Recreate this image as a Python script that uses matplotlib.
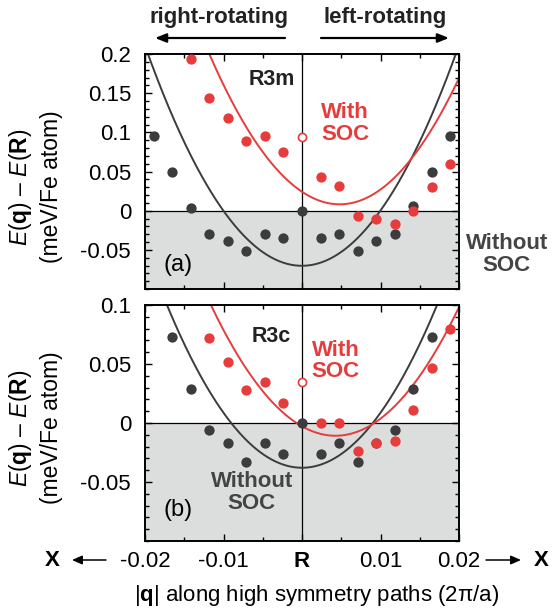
import numpy as np
import matplotlib
matplotlib.use('Agg')
import matplotlib.pyplot as plt

plt.rcParams['font.family'] = ['Liberation Sans', 'DejaVu Sans']
plt.rcParams['mathtext.fontset'] = 'custom'
plt.rcParams['mathtext.rm'] = 'Liberation Sans'
plt.rcParams['mathtext.it'] = 'Liberation Sans:italic'
plt.rcParams['mathtext.bf'] = 'Liberation Sans:bold'

# q points along the paths (2pi/a), R in the middle
q = [-0.0189, -0.01654, -0.01418, -0.01181, -0.00945, -0.00709, -0.00473, -0.00236, 0.0,
     0.00236, 0.00473, 0.00709, 0.00945, 0.01181, 0.01418, 0.01654, 0.0189]
nan = np.nan

# panel (a) R3m
a_nosoc = [0.095, 0.049, 0.004, -0.030, -0.039, -0.052, -0.030, -0.035, 0.0,
           -0.035, -0.030, -0.052, -0.039, -0.030, 0.006, 0.049, 0.095]
a_soc = [nan, nan, 0.194, 0.144, 0.118, 0.089, 0.095, 0.075, nan,
         0.043, 0.032, -0.007, -0.011, -0.017, 0.000, 0.030, 0.060]
a_soc_R = 0.094

# panel (b) R3c
b_nosoc = [nan, 0.073, 0.029, -0.006, -0.017, -0.033, -0.017, -0.026, 0.0,
           -0.026, -0.017, -0.033, -0.017, -0.006, 0.029, 0.073, nan]
b_soc = [nan, nan, nan, 0.072, 0.052, 0.028, 0.035, 0.017, nan,
         0.0, 0.0, -0.024, -0.017, -0.015, 0.011, 0.047, 0.080]
b_soc_R = 0.035

# points
a_fit_nosoc_q = [-0.0196, -0.014, -0.0101, 0.0, 0.0099, 0.014, 0.0196]
a_fit_nosoc_e = [0.200, 0.067, 0.0, -0.070, 0.0, 0.067, 0.200]
a_fit_soc_q = [-0.0118, -0.005, 0.0, 0.0048, 0.010, 0.015, 0.020]
a_fit_soc_e = [0.200, 0.075, 0.024, 0.008, 0.027, 0.081, 0.169]
b_fit_nosoc_q = [-0.0172, -0.012, -0.009, 0.0, 0.009, 0.012, 0.0172]
b_fit_nosoc_e = [0.100, 0.029, 0.0, -0.038, 0.0, 0.029, 0.100]
b_fit_soc_q = [-0.0116, -0.005, 0.0, 0.0043, 0.010, 0.015, 0.020]
b_fit_soc_e = [0.100, 0.027, -0.003, -0.011, 0.004, 0.040, 0.098]

RED = '#e63c3c'
DARK = '#3c3c3e'
GREY = '#dcdddd'
W, H = 556., 610.


def fp(x, y):
    return (x / W, 1 - y / H)


fig = plt.figure(figsize=(5.56, 6.10), dpi=100)
ax1 = fig.add_axes([145 / W, 1 - 289 / H, 314 / W, 235 / H])
ax2 = fig.add_axes([145 / W, 1 - 541 / H, 314 / W, 236 / H])


def panel(ax, ylim, nosoc, soc, soc_R, fits):
    ax.set_xlim(-0.02, 0.02)
    ax.set_ylim(*ylim)
    ax.axhspan(ylim[0], 0, color=GREY, zorder=0, lw=0)
    ax.axhline(0, color='k', lw=0.9, zorder=1)
    ax.axvline(0, color='k', lw=0.9, zorder=1)
    qq = np.linspace(-0.02, 0.02, 400)
    for (fq, fe), c in zip(fits, [DARK, RED]):
        p = np.polyfit(fq, fe, 2)
        ax.plot(qq, np.polyval(p, qq), color=c, lw=1.4, zorder=2)
    ax.scatter(q, nosoc, s=55, color=DARK, lw=0, zorder=3)
    ax.scatter(q, soc, s=55, color=RED, lw=0, zorder=4)
    ax.scatter([0], [soc_R], s=34, facecolor='white', edgecolor=RED, lw=1.2, zorder=5)
    ax.set_xticks([-0.02, -0.01, 0, 0.01, 0.02])
    ax.set_xticks(np.arange(-0.02, 0.0201, 0.005), minor=True)
    ax.set_yticks(np.arange(-0.1, ylim[1] + 0.001, 0.01), minor=True)
    ax.tick_params(which='both', direction='in', top=True, right=True, labelsize=16, width=1)
    ax.tick_params(which='major', length=5)
    ax.tick_params(which='minor', length=3)
    ax.tick_params(axis='y', pad=10)
    ax.tick_params(axis='x', pad=7)
    for s in ax.spines.values():
        s.set_linewidth(1.4)


panel(ax1, (-0.1, 0.2), a_nosoc, a_soc, a_soc_R,
      [(a_fit_nosoc_q, a_fit_nosoc_e), (a_fit_soc_q, a_fit_soc_e)])
panel(ax2, (-0.1, 0.1), b_nosoc, b_soc, b_soc_R,
      [(b_fit_nosoc_q, b_fit_nosoc_e), (b_fit_soc_q, b_fit_soc_e)])

ax1.set_yticks([-0.05, 0, 0.05, 0.1, 0.15, 0.2])
ax1.set_yticklabels(['-0.05', '0', '0.05', '0.1', '0.15', '0.2'])
ax1.set_xticklabels([])
ax2.set_yticks([-0.05, 0, 0.05, 0.1])
ax2.set_yticklabels(['-0.05', '0', '0.05', '0.1'])
ax2.set_xticklabels(['-0.02', '-0.01', 'R', '0.01', '0.02'])
ax2.get_xticklabels()[2].set_fontweight('bold')

# in-panel text
ax1.text(-0.00386, 0.168, 'R3m', fontsize=15.5, fontweight='bold', color='#222222', ha='center', va='center')
ax1.text(0.0055, 0.111, 'With\nSOC', fontsize=16, fontweight='bold', color=RED, ha='center', va='center', linespacing=1.05)
ax1.text(-0.0158, -0.070, '(a)', fontsize=17, ha='center', va='center')
ax1.text(0.0261, -0.056, 'Without\nSOC', fontsize=16, fontweight='bold', color='#444444',
         ha='center', va='center', linespacing=1.05, clip_on=False)
ax2.text(-0.00386, 0.073, 'R3c', fontsize=15.5, fontweight='bold', color='#222222', ha='center', va='center')
ax2.text(0.0043, 0.0525, 'With\nSOC', fontsize=16, fontweight='bold', color=RED, ha='center', va='center', linespacing=1.05)
ax2.text(-0.0064, -0.059, 'Without\nSOC', fontsize=16, fontweight='bold', color='#444444', ha='center', va='center', linespacing=1.05)
ax2.text(-0.0158, -0.074, '(b)', fontsize=17, ha='center', va='center')

# y labels
for yc in (187, 428):
    fig.text(*fp(20, yc), r'$E$($\mathbf{q}$) – $E$($\mathbf{R}$)', rotation=90, fontsize=16.5, ha='center', va='center')
    fig.text(*fp(52, yc), '(meV/Fe atom)', rotation=90, fontsize=16.5, ha='center', va='center')

# x label and X ends
fig.text(*fp(317, 595), r'|$\mathbf{q}$| along high symmetry paths (2π/a)', fontsize=16, ha='center', va='center')
fig.text(*fp(52, 560), 'X', fontsize=16, fontweight='bold', ha='center', va='center')
fig.text(*fp(541, 560), 'X', fontsize=16, fontweight='bold', ha='center', va='center')
for x0, x1 in ((106, 72), (486, 521)):
    fig.add_artist(matplotlib.patches.FancyArrowPatch(fp(x0, 560), fp(x1, 560), transform=fig.transFigure,
                   arrowstyle='-|>,head_length=0.5,head_width=0.22', mutation_scale=12, lw=1.1, color='k',
                   shrinkA=0, shrinkB=0))

# rotation sense on top
fig.text(*fp(219, 17), 'right-rotating', fontsize=16, fontweight='bold', color='#222222', ha='center', va='center')
fig.text(*fp(385, 17), 'left-rotating', fontsize=16, fontweight='bold', color='#222222', ha='center', va='center')
for x0, x1 in ((285, 155), (321, 449)):
    fig.add_artist(matplotlib.patches.FancyArrowPatch(fp(x0, 38), fp(x1, 38), transform=fig.transFigure,
                   arrowstyle='-|>,head_length=0.55,head_width=0.22', mutation_scale=12, lw=1.6, color='k',
                   shrinkA=0, shrinkB=0))

fig.savefig('out.png', dpi=100)
